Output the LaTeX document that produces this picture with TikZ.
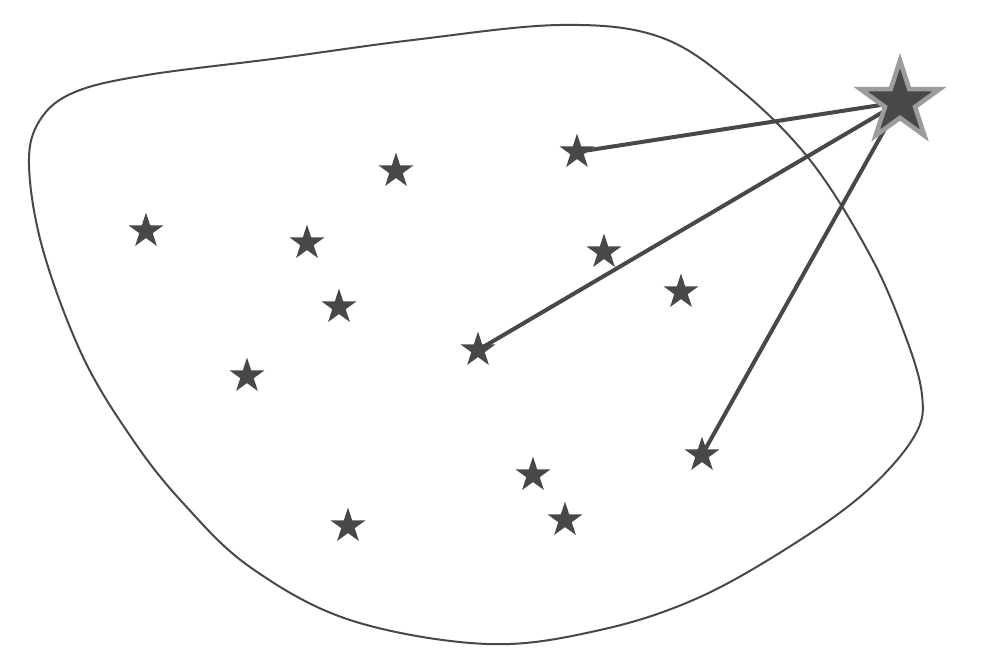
\documentclass[tikz,border=0pt]{standalone}
\usepackage{tikz}
\usepackage{xcolor}
\usetikzlibrary{shapes.geometric, backgrounds}
\definecolor{stardark}{HTML}{494747}
\definecolor{stargray}{HTML}{9C9C9C}
\tikzstyle{point} = [star, star points=5, star point ratio=2.618, minimum size=37pt, inner sep=0pt, fill=stardark]
\tikzstyle{bigpoint} = [star, star points=5, star point ratio=2.618, minimum size=83pt, inner sep=0pt, fill=stardark, draw=stargray, line width=4.6pt]
\tikzstyle{ray} = [line width=4pt, draw=stardark]
\tikzstyle{region} = [line width=2pt, draw=stardark]

\begin{document}
\begin{tikzpicture}[x=1pt, y=-1pt]
\useasboundingbox (0,0) rectangle (984,662);

% Region outline
\draw[region] plot[smooth cycle, tension=0.6] coordinates {
    (29,165) (43,250) (83,357) (133,440) (183,503) (250,567) (350,620) (487,644)
    (600,630) (700,597) (800,540) (870,488) (915,435) (922,395) (905,335)
    (870,255) (810,160) (737,87) (660,37) (560,25) (413,40) (280,58)
    (147,75) (75,92) (40,120)};

% Points in the region
\node (p1) [point] at (146,231) {};
\node (p2) [point] at (396,171) {};
\node (p3) [point] at (307,243) {};
\node (p4) [point] at (339,307) {};
\node (p5) [point] at (247,376) {};
\node (p6) [point] at (577,152) {};
\node (p7) [point] at (604,252) {};
\node (p8) [point] at (681,292) {};
\node (p9) [point] at (478,350) {};
\node (p10) [point] at (533,475) {};
\node (p11) [point] at (565,520) {};
\node (p12) [point] at (348,526) {};
\node (p13) [point] at (702,455) {};

% Outside point
\node (far) [bigpoint] at (900,102) {};

% Rays
\begin{scope}[on background layer]
\draw[ray] (far.center) -- (p6.center);
\draw[ray] (far.center) -- (p9.center);
\draw[ray] (far.center) -- (p13.center);
\end{scope}

\end{tikzpicture}
\end{document}
